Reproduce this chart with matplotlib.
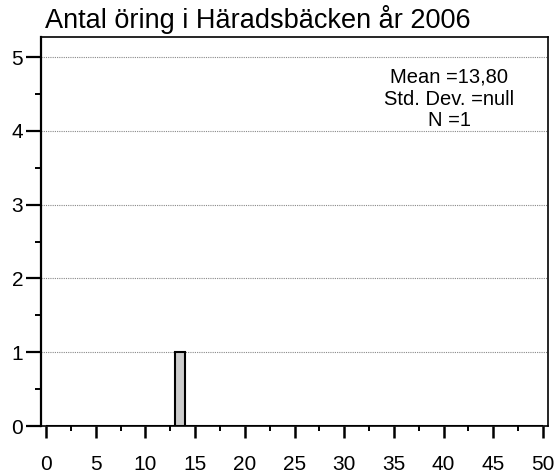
import matplotlib
matplotlib.use('Agg')
import matplotlib.pyplot as plt
from matplotlib.ticker import MultipleLocator
import numpy as np

plt.rcParams['font.family'] = ['Liberation Sans', 'DejaVu Sans']

# data: one observation (length of the only trout caught)
obs = [13.8]
bin_width = 1
title = 'Antal öring i Häradsbäcken år 2006'
stats_lines = ['Mean =13,80', 'Std. Dev. =null', 'N =1']

W, H = 558, 475
fig = plt.figure(figsize=(W / 100, H / 100), dpi=100)
ax = fig.add_axes([41 / W, 1 - 426 / H, (548 - 41) / W, (426 - 37.3) / H])

ax.hist(obs, bins=np.arange(0, 50 + bin_width, bin_width),
        color='#cccccc', edgecolor='black', linewidth=1.5, zorder=3)

ax.set_xlim(-0.5, 50.5)
ax.set_ylim(0, 5.27)

# dotted gridlines at the integer counts
ax.yaxis.set_major_locator(MultipleLocator(1))
ax.yaxis.set_minor_locator(MultipleLocator(0.5))
ax.xaxis.set_major_locator(MultipleLocator(5))
ax.xaxis.set_minor_locator(MultipleLocator(2.5))
ax.grid(axis='y', which='major', linestyle=(0, (1, 1)), color='#888888', linewidth=0.8, zorder=1)

ax.tick_params(axis='y', which='major', direction='out', length=10.8, width=1.6,
               labelsize=15, pad=2)
ax.tick_params(axis='y', which='minor', direction='out', length=4.3, width=1.4)
ax.tick_params(axis='x', which='major', direction='out', length=8.6, width=1.8,
               labelsize=15, pad=12.5)
ax.tick_params(axis='x', which='minor', direction='out', length=3.6, width=1.4)

ax.spines['left'].set_linewidth(1.6)
ax.spines['bottom'].set_linewidth(1.2)
ax.spines['top'].set_linewidth(1.2)
ax.spines['right'].set_linewidth(1.2)

fig.text(45 / W, 1 - 28.3 / H, title, fontsize=19.5, ha='left', va='baseline')

for line, base in zip(stats_lines, [82.3, 105, 125.7]):
    fig.text(449 / W, 1 - base / H, line, fontsize=14.5, ha='center', va='baseline')

fig.savefig('out.png', dpi=100)
